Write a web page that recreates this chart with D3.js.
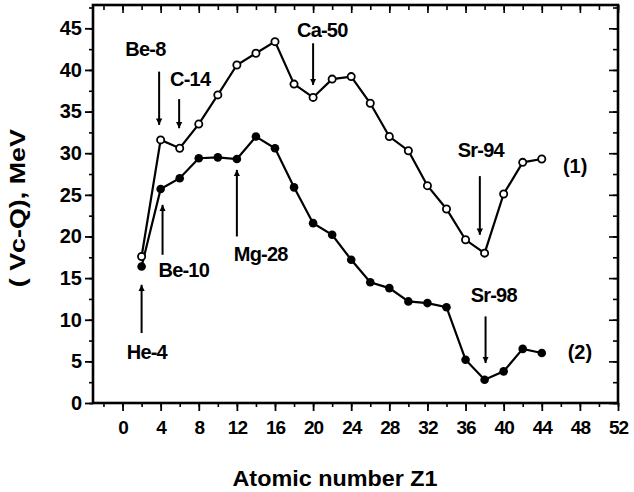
<!DOCTYPE html>
<html>
<head>
<meta charset="utf-8">
<script src="https://cdn.jsdelivr.net/npm/d3@7"></script>
<style>
  html, body { margin: 0; padding: 0; background: #fff; }
  svg { display: block; }
  text { font-family: "Liberation Sans", Arial, Helvetica, sans-serif; fill: #000; }
</style>
</head>
<body>
<svg id="chart" width="634" height="492"></svg>
<script>
// ---- Data ----
const atomicZ = [2, 4, 6, 8, 10, 12, 14, 16, 18, 20, 22, 24, 26, 28, 30, 32, 34, 36, 38, 40, 42, 44];
const series1 = [17.6, 31.6, 30.6, 33.5, 37.0, 40.6, 42.0, 43.4, 38.3, 36.7, 38.9, 39.2, 36.0, 32.0, 30.3, 26.1, 23.3, 19.6, 18.0, 25.1, 28.9, 29.3];
const series2 = [16.4, 25.7, 27.0, 29.4, 29.5, 29.3, 32.0, 30.6, 25.9, 21.6, 20.2, 17.2, 14.5, 13.8, 12.2, 12.0, 11.5, 5.2, 2.8, 3.8, 6.5, 6.0];
const xTicks = [0, 4, 8, 12, 16, 20, 24, 28, 32, 36, 40, 44, 48, 52];
const yTicks = [0, 5, 10, 15, 20, 25, 30, 35, 40, 45];
// annotation labels: text, arrow Z, arrow from/to value, label Z, label value
const annLabels = ["Be-8", "C-14", "Ca-50", "Sr-94", "Sr-98", "Mg-28", "Be-10", "He-4"];
const annArrowZ = [3.84, 5.94, 20.0, 37.5, 38.1, 12.0, 4.2, 2.0];
const annFrom = [39.8, 36.5, 43.2, 27.25, 10.4, 20.0, 17.8, 8.4];
const annTo = [33.4, 33.0, 38.2, 20.2, 4.8, 28.0, 23.8, 14.2];
const annTextZ = [2.4, 7.1, 20.96, 37.6, 38.96, 14.5, 6.43, 2.55];
const annTextV = [41.7, 38.1, 43.9, 29.6, 12.1, 17.0, 15.1, 5.3];
const seriesNames = ["(1)", "(2)"];
const seriesNameZ = [47.5, 48.0];
const seriesNameV = [27.6, 5.3];

// ---- Scales ----
const svg = d3.select("#chart");
const x = d3.scaleLinear().domain([-3.1, 52]).range([93, 618]);
const y = d3.scaleLinear().domain([0, 47.8]).range([403, 5]);

const defs = svg.append("defs");
defs.append("marker")
  .attr("id", "arrow").attr("viewBox", "0 0 10 10")
  .attr("refX", 10).attr("refY", 5)
  .attr("markerWidth", 3.2).attr("markerHeight", 6.5)
  .attr("markerUnits", "strokeWidth")
  .attr("orient", "auto")
  .append("path").attr("d", "M0,0 L10,5 L0,10 Z").attr("fill", "#000");

// ---- Axes ----
const xMinor = d3.range(-2, 53, 2);
const yMinor = d3.range(0, 47.6, 2.5);

// bottom axis: outward ticks
const gx = svg.append("g").attr("transform", `translate(0,${y(0)})`)
  .call(d3.axisBottom(x).tickValues(xMinor).tickSize(4).tickFormat(""));
gx.select(".domain").remove();
gx.selectAll("line").attr("stroke-width", 1.6);
const gx2 = svg.append("g").attr("transform", `translate(0,${y(0)})`)
  .call(d3.axisBottom(x).tickValues(xTicks).tickSize(8).tickPadding(10).tickFormat(d3.format("d")));
gx2.select(".domain").remove();
gx2.selectAll("line").attr("stroke-width", 1.8);
gx2.selectAll("text").attr("font-size", 19).attr("font-weight", "bold")
  .attr("letter-spacing", "-1px").attr("fill", "#000");

// top axis: inward ticks
const gt = svg.append("g").attr("transform", `translate(0,${y.range()[1]})`)
  .call(d3.axisBottom(x).tickValues(xMinor).tickSize(5).tickFormat(""));
gt.select(".domain").remove();
gt.selectAll("line").attr("stroke-width", 1.6);
const gt2 = svg.append("g").attr("transform", `translate(0,${y.range()[1]})`)
  .call(d3.axisBottom(x).tickValues(xTicks).tickSize(8).tickFormat(""));
gt2.select(".domain").remove();
gt2.selectAll("line").attr("stroke-width", 1.6);

// left axis: outward ticks
const gy = svg.append("g").attr("transform", `translate(${x.range()[0]},0)`)
  .call(d3.axisLeft(y).tickValues(yMinor).tickSize(4).tickFormat(""));
gy.select(".domain").remove();
gy.selectAll("line").attr("stroke-width", 1.6);
const gy2 = svg.append("g").attr("transform", `translate(${x.range()[0]},0)`)
  .call(d3.axisLeft(y).tickValues(yTicks).tickSize(8).tickPadding(3).tickFormat(d3.format("d")));
gy2.select(".domain").remove();
gy2.selectAll("line").attr("stroke-width", 1.8);
gy2.selectAll("text").attr("font-size", 20).attr("font-weight", "bold").attr("fill", "#000");

// right axis: inward ticks
const gr = svg.append("g").attr("transform", `translate(${x.range()[1]},0)`)
  .call(d3.axisRight(y).tickValues(yMinor).tickSize(-5).tickFormat(""));
gr.select(".domain").remove();
gr.selectAll("line").attr("stroke-width", 1.6);
const gr2 = svg.append("g").attr("transform", `translate(${x.range()[1]},0)`)
  .call(d3.axisRight(y).tickValues(yTicks).tickSize(-9).tickFormat(""));
gr2.select(".domain").remove();
gr2.selectAll("line").attr("stroke-width", 1.6);

// frame
svg.append("rect")
  .attr("x", x.range()[0]).attr("y", y.range()[1])
  .attr("width", x.range()[1] - x.range()[0])
  .attr("height", y.range()[0] - y.range()[1])
  .attr("fill", "none").attr("stroke", "#000").attr("stroke-width", 2.6);

// axis titles
svg.append("text")
  .attr("x", x(22.3)).attr("y", 486)
  .attr("text-anchor", "middle").attr("font-size", 22).attr("font-weight", "bold")
  .attr("textLength", 205).attr("lengthAdjust", "spacingAndGlyphs")
  .text("Atomic number Z1");
svg.append("text")
  .attr("transform", `translate(25,${y(23.4)}) rotate(-90)`)
  .attr("text-anchor", "middle").attr("font-size", 22).attr("font-weight", "bold")
  .attr("textLength", 158).attr("lengthAdjust", "spacingAndGlyphs")
  .text("( Vc-Q), MeV");

// ---- Lines & points ----
const pts1 = atomicZ.map((z, i) => [z, series1[i]]);
const pts2 = atomicZ.map((z, i) => [z, series2[i]]);
const line = d3.line().x(d => x(d[0])).y(d => y(d[1]));

svg.append("path").datum(pts2).attr("d", line)
  .attr("fill", "none").attr("stroke", "#000").attr("stroke-width", 2.2);
svg.append("path").datum(pts1).attr("d", line)
  .attr("fill", "none").attr("stroke", "#000").attr("stroke-width", 2.2);

svg.append("g").selectAll("circle").data(pts2).join("circle")
  .attr("cx", d => x(d[0])).attr("cy", d => y(d[1])).attr("r", 4.3)
  .attr("fill", "#000");
svg.append("g").selectAll("circle").data(pts1).join("circle")
  .attr("cx", d => x(d[0])).attr("cy", d => y(d[1])).attr("r", 3.6)
  .attr("fill", "#fff").attr("stroke", "#000").attr("stroke-width", 1.8);

// ---- Annotations ----
const ann = annLabels.map((t, i) => ({ t, az: annArrowZ[i], f: annFrom[i], to: annTo[i], tz: annTextZ[i], tv: annTextV[i] }));
const ga = svg.append("g");
ga.selectAll("line").data(ann).join("line")
  .attr("x1", d => x(d.az)).attr("x2", d => x(d.az))
  .attr("y1", d => y(d.f)).attr("y2", d => y(d.to))
  .attr("stroke", "#000").attr("stroke-width", 2)
  .attr("marker-end", "url(#arrow)");
ga.selectAll("text").data(ann).join("text")
  .attr("x", d => x(d.tz)).attr("y", d => y(d.tv))
  .attr("text-anchor", "middle").attr("font-size", 20).attr("font-weight", "bold")
  .attr("letter-spacing", "-0.8px")
  .text(d => d.t);

svg.append("g").selectAll("text").data(seriesNames).join("text")
  .attr("x", (d, i) => x(seriesNameZ[i])).attr("y", (d, i) => y(seriesNameV[i]))
  .attr("text-anchor", "middle").attr("font-size", 20).attr("font-weight", "bold")
  .text(d => d);
</script>
</body>
</html>
